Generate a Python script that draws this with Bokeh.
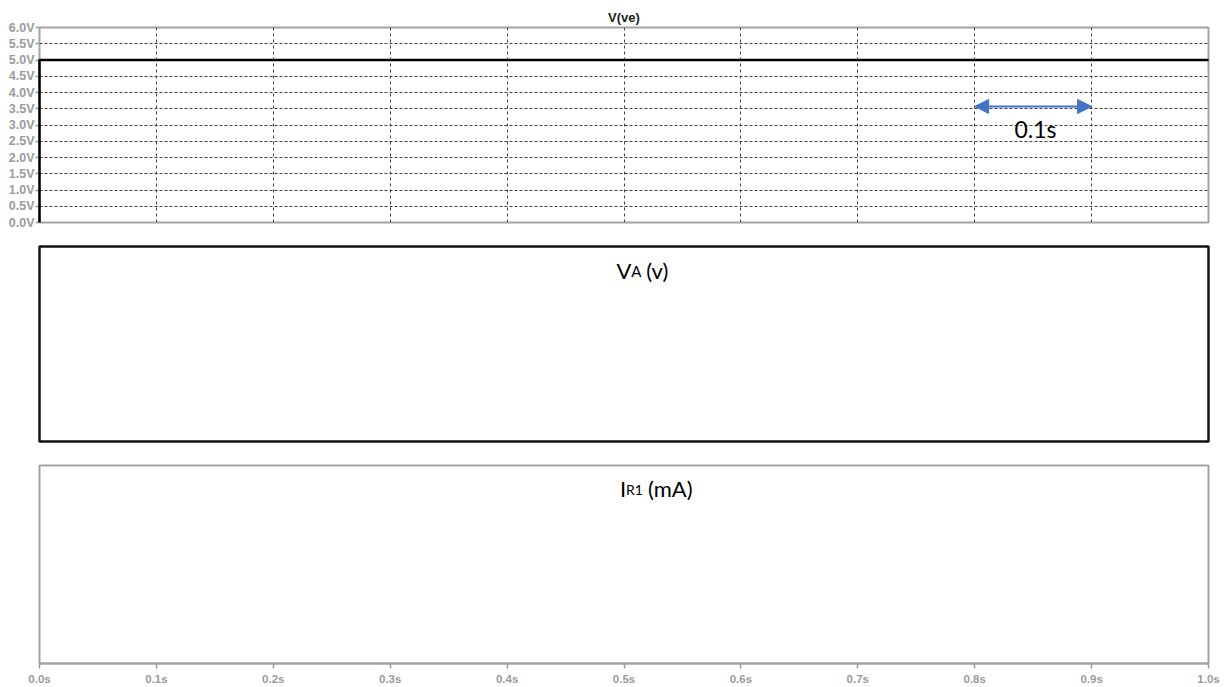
from bokeh.plotting import figure
from bokeh.layouts import column
from bokeh.models import Range1d, FixedTicker, Label, Arrow, NormalHead
from bokeh.embed import file_html
from bokeh.resources import INLINE

# ---- data ----
t_ve = [0.0, 0.0, 1.0]          # time (s)
v_ve = [0.0, 5.0, 5.0]          # V(ve) in volts
y_ticks = [0.0, 0.5, 1.0, 1.5, 2.0, 2.5, 3.0, 3.5, 4.0, 4.5, 5.0, 5.5, 6.0]
y_tick_labels = ["0.0V", "0.5V", "1.0V", "1.5V", "2.0V", "2.5V", "3.0V",
                 "3.5V", "4.0V", "4.5V", "5.0V", "5.5V", "6.0V"]
x_ticks = [0.0, 0.1, 0.2, 0.3, 0.4, 0.5, 0.6, 0.7, 0.8, 0.9, 1.0]
x_tick_labels = ["0.0s", "0.1s", "0.2s", "0.3s", "0.4s", "0.5s",
                 "0.6s", "0.7s", "0.8s", "0.9s", "1.0s"]
arrow_span = [0.8, 0.9]
arrow_level = 3.57
arrow_text = "0.1s"
title_top = "V(ve)"

W = 1222
LEFT = 39
RIGHT = W - LEFT - 1169
GRAY = "#a3a3a3"
TICKC = "#9a9a9a"
FONT = "Liberation Sans"


def base(height, top, bottom, yr):
    p = figure(width=W, height=height, output_backend="svg", toolbar_location=None,
               x_range=Range1d(0, 1), y_range=Range1d(*yr),
               min_border_left=LEFT, min_border_right=RIGHT,
               min_border_top=top, min_border_bottom=bottom)
    p.background_fill_color = "white"
    p.border_fill_color = "white"
    p.outline_line_width = 2
    p.outline_line_color = GRAY
    return p


# ---- top panel: V(ve) ----
p1 = base(234, 27, 12, (0, 6))
p1.title.text = title_top
p1.title.align = "center"
p1.title.offset = -3
p1.title.standoff = 6
p1.title.text_font = FONT
p1.title.text_font_style = "bold"
p1.title.text_font_size = "13px"
p1.title.text_color = "#1c1c24"
p1.xaxis.visible = False
p1.xgrid.ticker = FixedTicker(ticks=x_ticks)
p1.xgrid.grid_line_color = "#404040"
p1.xgrid.grid_line_dash = "3 3"
p1.xgrid.grid_line_width = 1
p1.ygrid.ticker = FixedTicker(ticks=y_ticks)
p1.ygrid.grid_line_color = "#404040"
p1.ygrid.grid_line_dash = "3 2"
p1.ygrid.grid_line_width = 1
ya = p1.yaxis[0]
ya.ticker = FixedTicker(ticks=y_ticks)
ya.major_label_overrides = {v: s for v, s in zip(y_ticks, y_tick_labels)}
ya.axis_line_color = None
ya.major_tick_line_color = TICKC
ya.major_tick_line_width = 1.5
ya.major_tick_out = 4
ya.major_tick_in = 0
ya.minor_tick_line_color = None
ya.major_label_standoff = 1
ya.major_label_text_font = FONT
ya.major_label_text_font_style = "bold"
ya.major_label_text_font_size = "12.5px"
ya.major_label_text_color = TICKC

p1.line(t_ve, v_ve, line_color="black", line_width=2.5, level="overlay")

p1.add_layout(Arrow(x_start=arrow_span[0], y_start=arrow_level,
                    x_end=arrow_span[1], y_end=arrow_level,
                    line_color="#4472C4", line_width=2,
                    start=NormalHead(size=14, fill_color="#4472C4", line_color="#4472C4"),
                    end=NormalHead(size=14, fill_color="#4472C4", line_color="#4472C4")))
p1.add_layout(Label(x=(arrow_span[0] + arrow_span[1]) / 2 + 0.002, y=2.89, text=arrow_text,
                    text_align="center", text_baseline="alphabetic", text_font="Lato",
                    text_font_size="23px", text_color="black"))

# ---- middle panel: VA (v) ----
p2 = base(219, 12, 12, (0, 1))
p2.axis.visible = False
p2.grid.visible = False
p2.outline_line_color = "#111111"
p2.outline_line_width = 2.5
for xx, txt, fs, yy in [(0.4936, "V", "22px", 0.877), (0.5062, "A", "15px", 0.874),
                        (0.5190, "(v)", "22px", 0.877)]:
    p2.add_layout(Label(x=xx, y=yy, text=txt, text_align="left", text_baseline="alphabetic",
                        text_font="Lato", text_font_size=fs, text_color="black"))

# ---- bottom panel: IR1 (mA) ----
p3 = base(234, 12, 24, (0, 1))
p3.yaxis.visible = False
p3.grid.visible = False
xa = p3.xaxis[0]
xa.ticker = FixedTicker(ticks=x_ticks)
xa.major_label_overrides = {v: s for v, s in zip(x_ticks, x_tick_labels)}
xa.axis_line_color = GRAY
xa.axis_line_width = 2
xa.major_tick_line_color = TICKC
xa.major_tick_line_width = 1.5
xa.major_tick_out = 5
xa.major_tick_in = 0
xa.minor_tick_line_color = None
xa.major_label_standoff = 4
xa.major_label_text_font = FONT
xa.major_label_text_font_style = "bold"
xa.major_label_text_font_size = "11.5px"
xa.major_label_text_color = TICKC
for xx, txt, fs, yy in [(0.4965, "I", "22px", 0.884), (0.5017, "R1", "14px", 0.879),
                        (0.5205, "(mA)", "22px", 0.884)]:
    p3.add_layout(Label(x=xx, y=yy, text=txt, text_align="left", text_baseline="alphabetic",
                        text_font="Lato", text_font_size=fs, text_color="black"))

layout = column(p1, p2, p3, spacing=0)
open("out.html", "w").write(file_html(layout, INLINE))
